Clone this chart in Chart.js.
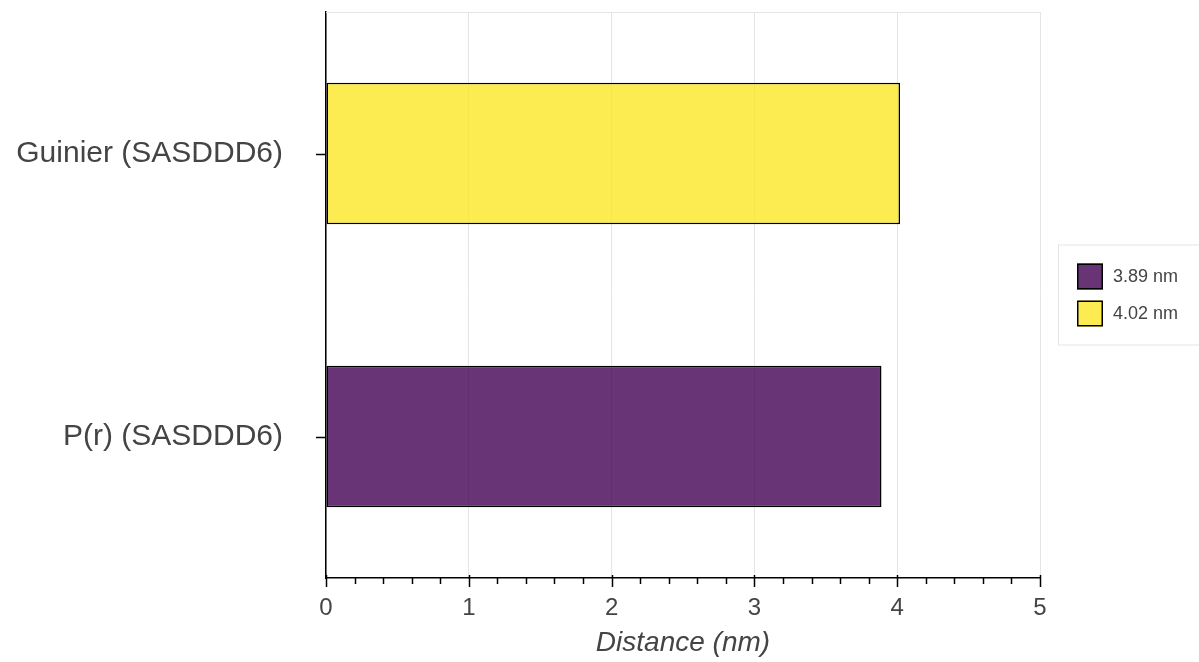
<!DOCTYPE html>
<html>
<head>
<meta charset="utf-8">
<title>Distance</title>
<script src="https://cdn.jsdelivr.net/npm/chart.js@4/dist/chart.umd.min.js"></script>
<style>
  html, body { margin: 0; padding: 0; background: #fff; }
  #chart { display: block; }
</style>
</head>
<body>
<canvas id="chart" width="1199" height="662"></canvas>
<script>
    // categories listed bottom to top
    var categories = ['P(r) (SASDDD6)', 'Guinier (SASDDD6)'];
    var distances = [3.89, 4.02];
    var seriesLabels = ['3.89 nm', '4.02 nm'];
    var fillColors = ['rgba(68, 1, 84, 0.8)', 'rgba(253, 231, 37, 0.8)'];
    var xTicks = [0, 1, 2, 3, 4, 5];

    var FONT = "'Liberation Sans', Arial, sans-serif";
    var TEXT = '#444444';

    // one dataset per bar so each gets its own legend entry
    var datasets = categories.map(function (c, i) {
        return {
            label: seriesLabels[i],
            data: categories.map(function (_, j) { return j === i ? distances[i] : null; }),
            backgroundColor: fillColors[i],
            borderColor: '#000000',
            borderWidth: 1.5,
            borderSkipped: false,
            barPercentage: 0.5,
            categoryPercentage: 1.0,
            grouped: false
        };
    });

    // tick marks, frame and boxed legend
    var extras = {
        id: 'extras',
        afterDraw: function (chart) {
            var ctx = chart.ctx;
            var area = chart.chartArea;
            var xs = chart.scales.x;
            var ys = chart.scales.y;
            ctx.save();

            // top frame line
            ctx.strokeStyle = '#e5e5e5';
            ctx.lineWidth = 1;
            ctx.beginPath();
            ctx.moveTo(area.left, area.top + 0.5);
            ctx.lineTo(area.right, area.top + 0.5);
            ctx.stroke();

            ctx.strokeStyle = '#000000';
            ctx.lineWidth = 1.5;
            ctx.beginPath();
            // major and minor ticks on x
            for (var k = 0; k <= 25; k++) {
                var v = xs.min + k * 0.2;
                var px = Math.round(xs.getPixelForValue(v)) + 0.5;
                if (k % 5 === 0) {
                    ctx.moveTo(px, area.bottom - 3);
                    ctx.lineTo(px, area.bottom + 9);
                } else {
                    ctx.moveTo(px, area.bottom);
                    ctx.lineTo(px, area.bottom + 6);
                }
            }
            // category ticks on y
            categories.forEach(function (c, i) {
                var py = Math.round(ys.getPixelForValue(i)) + 0.5;
                ctx.moveTo(area.left - 10, py);
                ctx.lineTo(area.left, py);
            });
            ctx.stroke();

            // legend
            var lx = area.right + 18;
            var midY = (area.top + area.bottom) / 2;
            var box = 26, gap = 11;
            var n = chart.data.datasets.length;
            var itemsH = n * box + (n - 1) * gap;
            var top = midY - itemsH / 2;
            ctx.strokeStyle = '#e5e5e5';
            ctx.lineWidth = 1;
            ctx.fillStyle = '#ffffff';
            ctx.fillRect(lx, top - 19, 200, itemsH + 38);
            ctx.strokeRect(lx + 0.5, top - 18.5, 200, itemsH + 37);

            ctx.font = '18px ' + FONT;
            ctx.textBaseline = 'middle';
            ctx.textAlign = 'left';
            chart.data.datasets.forEach(function (ds, i) {
                var by = top + i * (box + gap);
                ctx.fillStyle = ds.backgroundColor;
                ctx.fillRect(lx + 19, by, box, box);
                ctx.strokeStyle = '#000000';
                ctx.lineWidth = 1.5;
                ctx.strokeRect(lx + 19.75, by + 0.75, box - 1.5, box - 1.5);
                ctx.fillStyle = TEXT;
                ctx.fillText(ds.label, lx + 19 + box + 10, by + box / 2 + 1);
            });
            ctx.restore();
        }
    };

    var ctx = document.getElementById('chart').getContext('2d');
    var distanceChart = new Chart(ctx, {
        type: 'bar',
        data: {
            labels: categories,
            datasets: datasets
        },
        options: {
            indexAxis: 'y',
            responsive: false,
            animation: false,
            devicePixelRatio: 1,
            layout: {
                padding: { top: 12, right: 159, left: 0, bottom: 0 }
            },
            plugins: {
                legend: { display: false },
                tooltip: { enabled: false }
            },
            scales: {
                x: {
                    type: 'linear',
                    min: 0,
                    max: 5,
                    afterBuildTicks: function (axis) {
                        axis.ticks = xTicks.map(function (v) { return { value: v }; });
                    },
                    afterFit: function (axis) {
                        axis.height = 84;
                        axis.paddingLeft = 0;
                        axis.paddingRight = 0;
                    },
                    grid: {
                        color: '#e5e5e5',
                        lineWidth: 1,
                        drawTicks: false
                    },
                    border: { color: '#000000', width: 1.5 },
                    ticks: {
                        color: TEXT,
                        font: { family: FONT, size: 24 },
                        padding: 16
                    },
                    title: {
                        display: true,
                        text: 'Distance (nm)',
                        color: TEXT,
                        font: { family: FONT, size: 28, style: 'italic' },
                        padding: { top: 0, bottom: 2 }
                    }
                },
                y: {
                    reverse: true,
                    afterFit: function (axis) {
                        axis.width = 326;
                        axis.paddingTop = 0;
                        axis.paddingBottom = 0;
                    },
                    grid: { display: false, drawTicks: false },
                    border: { color: '#000000', width: 1.5 },
                    ticks: {
                        color: TEXT,
                        font: { family: FONT, size: 30 },
                        padding: 43
                    }
                }
            }
        },
        plugins: [extras]
    });
</script>
</body>
</html>
